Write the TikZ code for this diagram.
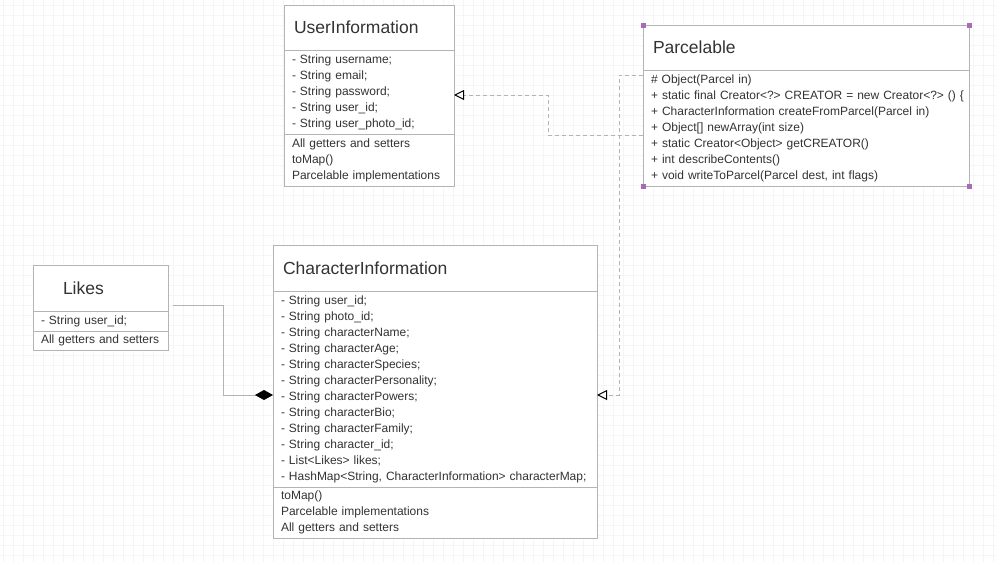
\documentclass[tikz,border=0pt]{standalone}
\usepackage{fontspec}
\setmainfont{Liberation Sans}
\usetikzlibrary{arrows.meta,positioning}
\definecolor{umlline}{RGB}{180,180,180}
\definecolor{umltext}{RGB}{51,51,51}
\definecolor{gridgray}{RGB}{245,245,245}
\definecolor{grippurple}{RGB}{168,108,182}

\begin{document}
\begin{tikzpicture}[x=1pt, y=-1pt,
    clsname/.style={draw=umlline, line width=1pt, fill=white, outer sep=0pt, inner xsep=10pt, inner ysep=2pt, align=left, text=umltext, font=\fontsize{17.5}{20}\selectfont, minimum height=45pt},
    members/.style={draw=umlline, line width=1pt, fill=white, outer sep=0pt, inner xsep=8pt, inner ysep=2pt, align=left, text=umltext, font=\fontsize{12}{16}\selectfont},
    realize/.style={draw=umlline, line width=1pt, dash pattern=on 4pt off 3pt, -{Triangle[open, length=10pt, width=10pt, line width=1pt, color=black]}},
    compose/.style={draw=umlline, line width=1pt, -{Diamond[length=18pt, width=10pt, color=black]}},
    grip/.style={fill=grippurple, minimum size=5pt, inner sep=0pt},
    gridline/.style={draw=gridgray, line width=1pt}
]
\useasboundingbox (0,0) rectangle (996,562);
\fill[white] (0,0) rectangle (996,562);
\foreach \gx in {3,13,...,993} \draw[gridline] (\gx,0) -- (\gx,562);
\foreach \gy in {5,15,...,555} \draw[gridline] (0,\gy) -- (996,\gy);

\node[clsname, anchor=north west, text width=150pt] (uname) at (284,5) {UserInformation};
\node[members, below=0pt of uname, text width=154pt, minimum height=84pt] (uattr) {- String username;\\- String email;\\- String password;\\- String user\_id;\\- String user\_photo\_id;};
\node[members, below=0pt of uattr, text width=154pt, minimum height=52pt] (umeth) {All getters and setters\\toMap()\\Parcelable implementations};

\node[clsname, anchor=north west, text width=306pt] (pname) at (643,25) {Parcelable};
\node[members, below=0pt of pname, text width=310pt, minimum height=116pt] (pmeth) {\# Object(Parcel in)\\\mbox{+ static final Creator<?> CREATOR = new Creator<?> () \{}\\+ CharacterInformation createFromParcel(Parcel in)\\+ Object[] newArray(int size)\\+ static Creator<Object> getCREATOR()\\+ int describeContents()\\+ void writeToParcel(Parcel dest, int flags)};

\node[clsname, anchor=north west, text width=115pt, minimum height=46pt] (lname) at (33,265) {\hspace*{20pt}Likes};
\node[members, below=0pt of lname, text width=119pt, minimum height=20pt] (lattr) {- String user\_id;};
\node[members, below=0pt of lattr, text width=119pt, minimum height=19pt] (lmeth) {All getters and setters};

\node[clsname, anchor=north west, text width=304pt, minimum height=46pt] (cname) at (273,245) {CharacterInformation};
\node[members, below=0pt of cname, text width=308pt, minimum height=196pt] (cattr) {- String user\_id;\\- String photo\_id;\\- String characterName;\\- String characterAge;\\- String characterSpecies;\\- String characterPersonality;\\- String characterPowers;\\- String characterBio;\\- String characterFamily;\\- String character\_id;\\- List<Likes> likes;\\\mbox{- HashMap<String, CharacterInformation> characterMap;}};
\node[members, below=0pt of cattr, text width=308pt, minimum height=51pt] (cmeth) {toMap()\\Parcelable implementations\\All getters and setters};

\foreach \c in {pname.north west, pname.north east, pmeth.south west, pmeth.south east}
  \node[grip] at (\c) {};

\draw[realize] (pmeth.west |- 0,135) -| (548,95) -- (uattr.east |- 0,95);
\draw[realize] (pmeth.west |- 0,75) -| (619,395) -- (cattr.east |- 0,395);
\draw[compose] ([shift={(5,-6)}]lname.south east) -| (223,395) -- (cattr.west |- 0,395);
\end{tikzpicture}
\end{document}
